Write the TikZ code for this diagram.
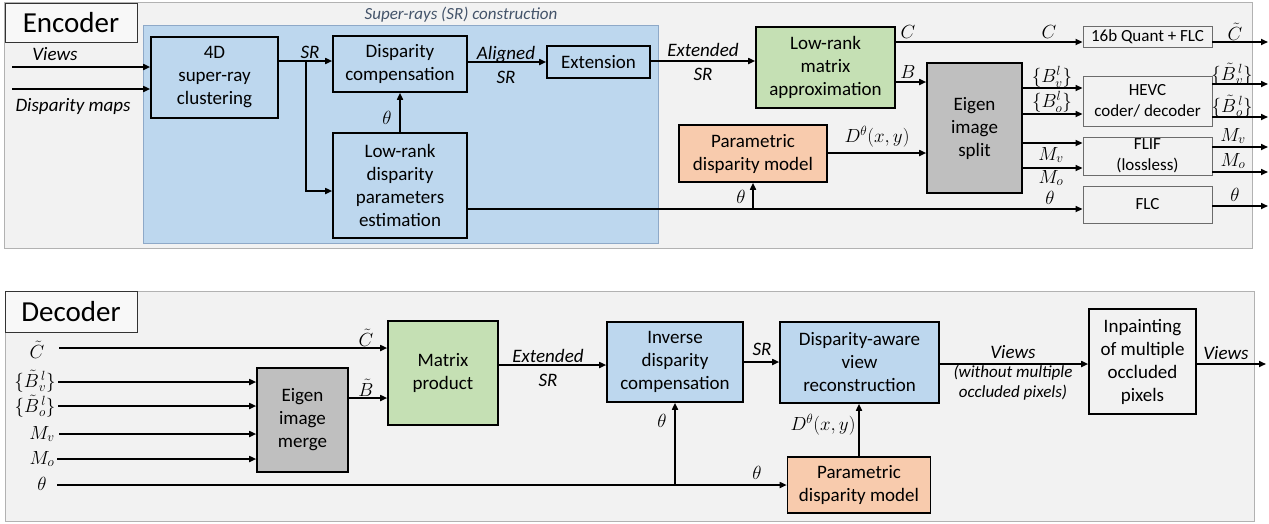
\RequirePackage{fix-cm}
\documentclass[tikz,border=0pt]{standalone}
\usepackage{fontspec}
\setmainfont{Carlito}
\usetikzlibrary{arrows.meta}
\definecolor{panel}{HTML}{F2F2F2}
\definecolor{srfill}{HTML}{BDD7EE}
\definecolor{srline}{HTML}{8EA9C8}
\definecolor{grn}{HTML}{C5E0B4}
\definecolor{org}{HTML}{F8CBAD}
\definecolor{eig}{HTML}{BFBFBF}
\definecolor{ttl}{HTML}{44546A}
\newcommand{\tBvl}{\{\tilde{B}{}^{\,l}_{v}\}}
\newcommand{\tBol}{\{\tilde{B}{}^{\,l}_{o}\}}
\begin{document}
\begin{tikzpicture}[x=1pt,y=-1pt,
 blk/.style={draw=black, line width=1.6pt, align=center, inner sep=0pt, font=\fontsize{19}{23}\selectfont},
 sblk/.style={draw=gray!85!black, line width=0.9pt, fill=panel, align=center, inner sep=0pt, font=\fontsize{17}{21}\selectfont},
 tagbox/.style={draw=black!80, line width=1pt, fill=white!50!panel, inner sep=0pt, font=\fontsize{29}{32}\selectfont},
 lbl/.style={font=\fontsize{19}{22}\selectfont\itshape, align=center, inner sep=0pt},
 mlbl/.style={font=\fontsize{19}{22}\selectfont, inner sep=0pt},
 arr/.style={line width=1.6pt, -{Triangle[length=7pt,width=6pt]}},
]
\useasboundingbox (0,0) rectangle (1269,523);
% panels
\filldraw[fill=panel, draw=gray!60, line width=0.8pt] (4,2) rectangle (1252,248);
\filldraw[fill=panel, draw=gray!60, line width=0.8pt] (5,291) rectangle (1254,521);
\filldraw[fill=srfill, draw=srline, line width=0.8pt] (143,25) rectangle (658,243);
\node[font=\fontsize{17}{20}\selectfont\itshape, text=ttl, inner sep=0pt] (srtitle) at (461,15) {Super-rays (SR) construction};

% label boxes
\node[tagbox, minimum width=132pt, minimum height=39pt] (enclab) at (71,22.5) {Encoder};
\node[tagbox, minimum width=132pt, minimum height=41pt] (declab) at (71,311.5) {Decoder};

% ===== Encoder nodes =====
\node[blk, fill=srfill, minimum width=127pt, minimum height=81pt] (cl) at (214.5,77.5) {4D\\super-ray\\clustering};
\node[blk, fill=srfill, minimum width=134pt, minimum height=56pt] (dc) at (400,64) {Disparity\\compensation};
\node[blk, fill=srfill, minimum width=134pt, minimum height=105pt] (lrd) at (400,185.5) {Low-rank\\disparity\\parameters\\estimation};
\node[blk, fill=srfill, minimum width=103pt, minimum height=32pt] (ext) at (598.5,62) {Extension};
\node[blk, fill=grn, minimum width=139pt, minimum height=81pt] (lrm) at (825.5,67.5) {Low-rank\\matrix\\approximation};
\node[blk, fill=org, minimum width=148pt, minimum height=57pt] (pdm) at (753,153.5) {Parametric\\disparity model};
\node[blk, fill=eig, minimum width=95pt, minimum height=130pt] (eis) at (974.5,128) {Eigen\\image\\split};
\node[sblk, minimum width=129pt, minimum height=21pt] (q16) at (1147.5,37) {16b Quant + FLC};
\node[sblk, minimum width=129pt, minimum height=50pt] (hevc) at (1147.5,101) {HEVC\\coder/ decoder};
\node[sblk, minimum width=129pt, minimum height=38pt] (flif) at (1147.5,156) {FLIF\\(lossless)};
\node[sblk, minimum width=129pt, minimum height=37pt] (flc) at (1147.5,204.5) {FLC};

% encoder coordinates
\coordinate (vin) at (12,67);
\coordinate (din) at (12,89);
\coordinate (srbr) at (306,61);
\coordinate (thbr) at (753,209);
\coordinate (oC) at (1268,42);
\coordinate (oBv) at (1268,84);
\coordinate (oBo) at (1268,117);
\coordinate (oMv) at (1268,147);
\coordinate (oMo) at (1268,172);
\coordinate (oth) at (1268,206);

% encoder connectors
\draw[arr] (vin) -- (cl.west |- vin);
\draw[arr] (din) -- (cl.west |- din);
\draw[arr] (cl.east |- srbr) -- (dc.west |- srbr);
\draw[arr] (srbr) |- (lrd.west |- 0,191);
\draw[arr] (lrd.north) -- (dc.south);
\draw[arr] (dc.east |- 0,62) -- (ext.west |- 0,62);
\draw[arr] (ext.east |- 0,61) -- (lrm.west |- 0,61);
\draw[arr] (lrd.east |- thbr) -- (flc.west |- thbr);
\draw[arr] (thbr) -- (pdm.south);
\draw[arr] (lrm.east |- oC) -- (q16.west |- oC);
\draw[arr] (q16.east |- oC) -- (oC);
\draw[arr] (lrm.east |- 0,82) -- (eis.west |- 0,82);
\draw[arr] (pdm.east |- 0,153) -- (eis.west |- 0,153);
\draw[arr] (eis.east |- 0,88) -- (hevc.west |- 0,88);
\draw[arr] (eis.east |- 0,114) -- (hevc.west |- 0,114);
\draw[arr] (eis.east |- 0,143) -- (flif.west |- 0,143);
\draw[arr] (eis.east |- 0,168) -- (flif.west |- 0,168);
\draw[arr] (hevc.east |- oBv) -- (oBv);
\draw[arr] (hevc.east |- oBo) -- (oBo);
\draw[arr] (flif.east |- oMv) -- (oMv);
\draw[arr] (flif.east |- oMo) -- (oMo);
\draw[arr] (flc.east |- oth) -- (oth);

% encoder labels
\node[lbl] (tviews) at (55,54) {Views};
\node[lbl] (tdisp) at (73,106) {Disparity maps};
\node[lbl] (tsr1) at (310,52) {SR};
\node[mlbl] (tth1) at (387,118) {$\theta$};
\node[lbl] (tal) at (506,65) {Aligned\\[2pt]SR};
\node[lbl] (text1) at (703,62) {Extended\\[2pt]SR};
\node[mlbl] (tC1) at (908,32) {$C$};
\node[mlbl] (tB1) at (908,72) {$B$};
\node[mlbl] (tC2) at (1049,32) {$C$};
\node[mlbl] (tCt) at (1235,32) {$\tilde{C}$};
\node[mlbl] (tD1) at (877,137) {$D^{\theta}(x,y)$};
\node[mlbl] (tth2) at (741,197) {$\theta$};
\node[mlbl] (tBv) at (1052,77) {$\{B_v^l\}$};
\node[mlbl] (tBo) at (1052,102) {$\{B_o^l\}$};
\node[mlbl] (tMv) at (1051,155) {$M_v$};
\node[mlbl] (tMo) at (1051,178) {$M_o$};
\node[mlbl] (tth3) at (1050,198) {$\theta$};
\node[mlbl] (tBvt) at (1232,74) {$\tBvl$};
\node[mlbl] (tBot) at (1232,106) {$\tBol$};
\node[mlbl] (tMv2) at (1233,136) {$M_v$};
\node[mlbl] (tMo2) at (1233,161) {$M_o$};
\node[mlbl] (tth4) at (1235,195) {$\theta$};

% ===== Decoder nodes =====
\node[blk, fill=eig, minimum width=91pt, minimum height=104pt] (eim) at (302.5,420) {Eigen\\image\\merge};
\node[blk, fill=grn, minimum width=110pt, minimum height=104pt] (mp) at (443,373) {Matrix\\product};
\node[blk, fill=srfill, minimum width=136pt, minimum height=80pt] (idc) at (675,362) {Inverse\\disparity\\compensation};
\node[blk, fill=srfill, minimum width=159pt, minimum height=81pt] (davr) at (859.5,362.5) {Disparity-aware\\view\\reconstruction};
\node[blk, fill=org, minimum width=143pt, minimum height=56pt] (pdm2) at (859,485) {Parametric\\disparity model};
\node[blk, fill=panel, minimum width=107pt, minimum height=105pt] (inp) at (1142.5,361.5) {Inpainting\\of multiple\\occluded\\pixels};

% decoder coordinates
\coordinate (iC) at (59,348);
\coordinate (iBv) at (58,382);
\coordinate (iBo) at (58,406);
\coordinate (iMv) at (59,434);
\coordinate (iMo) at (57,459);
\coordinate (ith) at (57,485);
\coordinate (oV) at (1266,364);

% decoder connectors
\draw[arr] (iC) -- (mp.west |- iC);
\draw[arr] (iBv) -- (eim.west |- iBv);
\draw[arr] (iBo) -- (eim.west |- iBo);
\draw[arr] (iMv) -- (eim.west |- iMv);
\draw[arr] (iMo) -- (eim.west |- iMo);
\draw[arr] (ith) -- (pdm2.west |- ith);
\draw[arr] (idc.south |- ith) -- (idc.south);
\draw[arr] (eim.east |- 0,398) -- (mp.west |- 0,398);
\draw[arr] (mp.east |- 0,365) -- (idc.west |- 0,365);
\draw[arr] (idc.east |- 0,362) -- (davr.west |- 0,362);
\draw[arr] (pdm2.north) -- (pdm2.north |- davr.south);
\draw[arr] (davr.east |- oV) -- (inp.west |- oV);
\draw[arr] (inp.east |- oV) -- (oV);

% decoder labels
\node[mlbl] (dtC) at (37,350) {$\tilde{C}$};
\node[mlbl] (dtBv) at (35,381) {$\tBvl$};
\node[mlbl] (dtBo) at (35,406) {$\tBol$};
\node[mlbl] (dtMv) at (42,434) {$M_v$};
\node[mlbl] (dtMo) at (42,459) {$M_o$};
\node[mlbl] (dtth) at (42,484) {$\theta$};
\node[mlbl] (dtC2) at (366,338) {$\tilde{C}$};
\node[mlbl] (dtB2) at (366,388) {$\tilde{B}$};
\node[lbl] (dtext) at (548,368) {Extended\\[2pt]SR};
\node[lbl] (dtsr) at (762,349) {SR};
\node[mlbl] (dtth2) at (662,421) {$\theta$};
\node[mlbl] (dtth3) at (757,473) {$\theta$};
\node[mlbl] (dtD) at (823,425) {$D^{\theta}(x,y)$};
\node[lbl] (dtviews) at (1013,352) {Views};
\node[font=\fontsize{17}{20}\selectfont\itshape, align=center, inner sep=0pt] (dtwo) at (1013,383) {(without multiple\\occluded pixels)};
\node[lbl] (dtviews2) at (1226,353) {Views};
\end{tikzpicture}
\end{document}
